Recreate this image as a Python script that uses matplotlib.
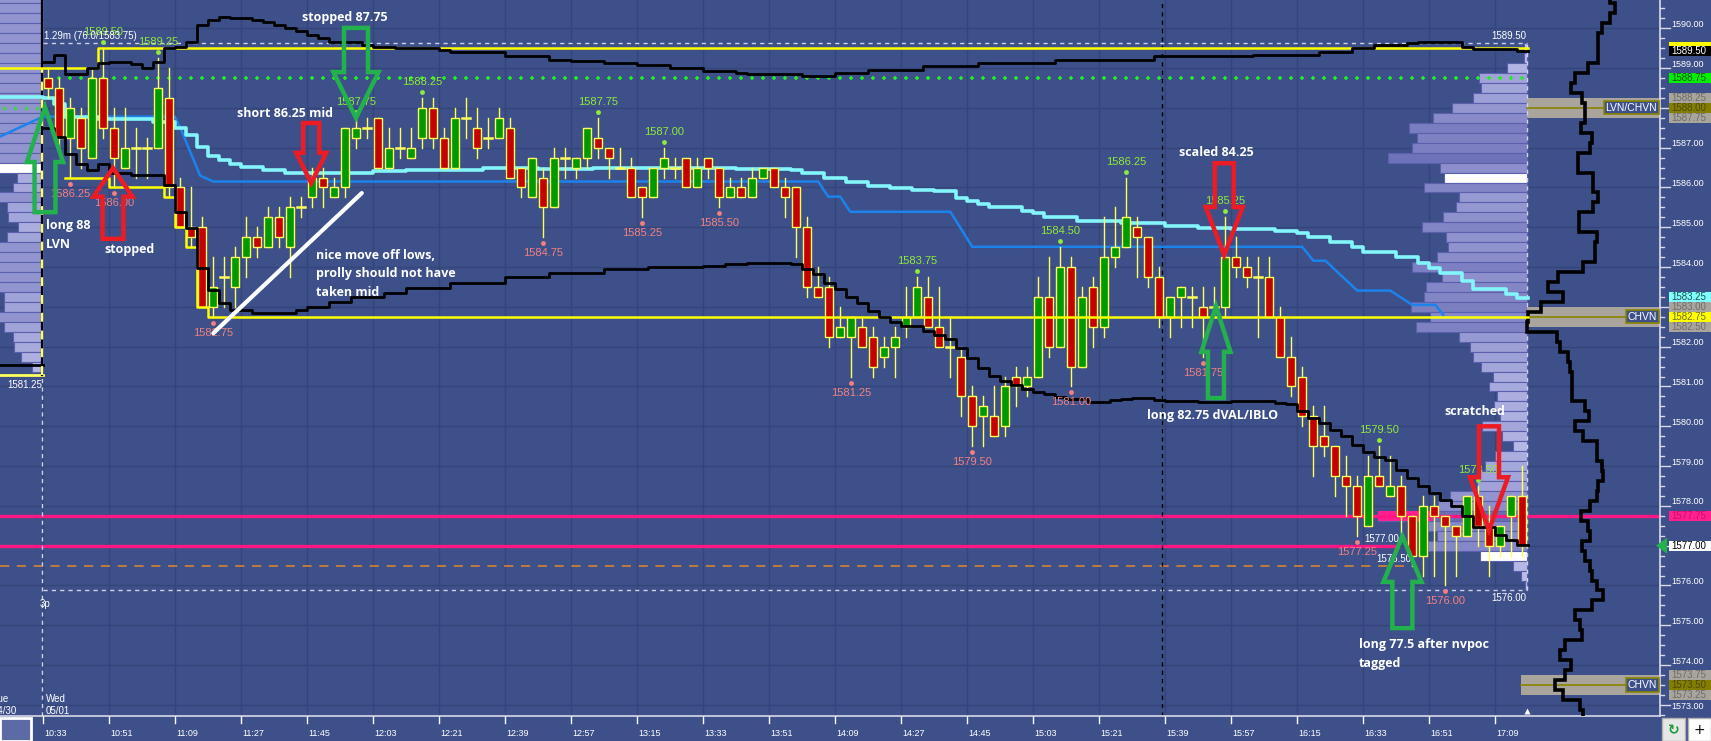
import numpy as np
import matplotlib
matplotlib.use('Agg')
import matplotlib.pyplot as plt
from matplotlib.patches import Rectangle, Polygon
from matplotlib import transforms

# ---- 3 minute bars, session of 05/01 ----
opens = [1588.75, 1588.5, 1587.25, 1587.75, 1586.75, 1588.75, 1587.5, 1586.5, 1587.0, 1587.0,
         1587.0, 1588.25, 1586.0, 1585.0, 1585.0, 1583.0, 1583.75, 1583.5, 1584.25, 1584.75,
         1584.5, 1585.25, 1584.5, 1585.5, 1585.75, 1586.25, 1585.75, 1586.0, 1587.25, 1587.5,
         1587.75, 1586.5, 1587.0, 1586.75, 1587.25, 1588.0, 1587.25, 1586.5, 1587.75, 1587.5,
         1587.25, 1587.25, 1587.5, 1586.5, 1585.75, 1586.25, 1585.5, 1586.75, 1586.5, 1586.75,
         1587.25, 1587.0, 1586.5, 1586.5, 1586.0, 1585.75, 1586.5, 1586.5, 1586.75, 1586.0,
         1586.75, 1586.5, 1585.75, 1586.0, 1585.75, 1586.25, 1586.5, 1586.0, 1586.0, 1585.0,
         1583.5, 1583.5, 1582.25, 1582.25, 1582.5, 1582.25, 1581.75, 1582.0, 1582.5, 1582.75,
         1583.25, 1582.5, 1582.0, 1581.75, 1580.75, 1580.25, 1580.25, 1580.0, 1581.25, 1581.0,
         1581.25, 1583.25, 1582.0, 1584.0, 1581.5, 1583.5, 1582.5, 1584.25, 1584.5, 1585.0,
         1584.75, 1583.75, 1582.75, 1583.25, 1583.25, 1583.0, 1583.0, 1583.0, 1584.25, 1584.0,
         1583.75, 1583.75, 1582.75, 1581.75, 1581.25, 1580.25, 1579.75, 1579.5, 1578.75, 1578.5,
         1577.5, 1578.75, 1578.25, 1578.5, 1577.75, 1576.75, 1578.0, 1577.75, 1577.5, 1577.25,
         1578.25, 1577.5, 1577.0, 1577.75, 1578.25]
highs = [1589.0, 1588.75, 1588.25, 1588.0, 1589.0, 1589.5, 1588.0, 1588.0, 1587.5, 1587.25,
         1589.25, 1589.0, 1586.25, 1586.0, 1585.25, 1584.25, 1584.25, 1584.5, 1585.25, 1585.0,
         1585.5, 1585.5, 1585.75, 1585.75, 1586.5, 1586.5, 1586.25, 1587.5, 1587.75, 1587.75,
         1587.75, 1587.5, 1587.5, 1587.5, 1588.25, 1588.25, 1587.5, 1588.0, 1588.25, 1588.0,
         1587.75, 1588.0, 1587.75, 1586.5, 1586.75, 1586.5, 1587.0, 1587.0, 1586.75, 1587.5,
         1587.75, 1587.0, 1587.0, 1586.75, 1586.0, 1586.5, 1587.0, 1586.75, 1586.75, 1586.75,
         1586.75, 1586.5, 1586.25, 1586.25, 1586.5, 1586.5, 1586.5, 1586.25, 1586.0, 1585.25,
         1584.0, 1583.75, 1583.0, 1582.75, 1582.75, 1582.5, 1582.25, 1582.5, 1583.5, 1583.75,
         1583.75, 1583.5, 1582.75, 1582.0, 1581.0, 1580.75, 1581.0, 1581.25, 1581.5, 1581.5,
         1583.75, 1584.25, 1584.5, 1584.25, 1583.5, 1583.75, 1585.25, 1585.5, 1586.25, 1585.25,
         1584.75, 1584.0, 1583.25, 1583.5, 1583.5, 1583.5, 1583.5, 1585.25, 1584.75, 1584.25,
         1584.25, 1584.25, 1583.0, 1582.25, 1581.5, 1580.5, 1580.5, 1579.5, 1579.25, 1578.75,
         1579.25, 1579.5, 1579.25, 1578.75, 1577.75, 1578.25, 1578.25, 1577.75, 1577.5, 1578.25,
         1578.5, 1578.0, 1577.5, 1578.25, 1579.0]
lows = [1588.25, 1587.0, 1586.25, 1586.5, 1586.75, 1587.25, 1586.0, 1586.5, 1586.25, 1586.25,
        1587.0, 1585.75, 1585.0, 1584.5, 1583.0, 1582.75, 1583.0, 1583.0, 1583.75, 1584.25,
        1584.5, 1584.5, 1583.75, 1585.25, 1585.5, 1585.5, 1585.75, 1585.75, 1587.0, 1587.25,
        1586.5, 1586.5, 1586.75, 1586.75, 1587.0, 1587.0, 1586.5, 1586.5, 1587.25, 1586.75,
        1587.0, 1587.25, 1586.25, 1585.75, 1585.75, 1584.75, 1585.5, 1586.25, 1586.25, 1586.5,
        1586.75, 1586.25, 1586.5, 1585.75, 1585.25, 1585.75, 1586.25, 1586.25, 1586.0, 1586.0,
        1586.25, 1585.5, 1585.75, 1585.75, 1585.75, 1586.25, 1586.0, 1585.25, 1584.25, 1583.25,
        1583.25, 1582.0, 1582.25, 1581.25, 1582.0, 1581.25, 1581.5, 1581.25, 1582.25, 1582.75,
        1582.5, 1582.0, 1581.25, 1580.25, 1579.5, 1579.5, 1579.75, 1579.75, 1580.5, 1580.75,
        1581.25, 1581.75, 1582.0, 1581.0, 1581.5, 1582.0, 1582.25, 1584.0, 1584.5, 1583.75,
        1583.5, 1582.5, 1582.25, 1582.5, 1582.5, 1581.75, 1582.75, 1582.75, 1583.75, 1583.5,
        1582.25, 1582.75, 1581.75, 1580.75, 1580.0, 1578.75, 1579.25, 1578.25, 1577.75, 1577.25,
        1577.5, 1578.5, 1578.25, 1577.25, 1576.5, 1576.25, 1576.25, 1576.0, 1576.25, 1577.25,
        1577.0, 1576.25, 1576.75, 1576.75, 1576.75]
closes = [1588.5, 1587.25, 1588.0, 1587.0, 1588.75, 1587.5, 1586.75, 1587.0, 1587.0, 1587.0,
          1588.5, 1586.0, 1585.0, 1584.75, 1583.0, 1583.5, 1583.75, 1584.25, 1584.75, 1584.5,
          1585.25, 1584.75, 1585.5, 1585.5, 1586.25, 1586.0, 1586.0, 1587.5, 1587.5, 1587.5,
          1586.5, 1587.0, 1587.0, 1587.0, 1588.0, 1587.25, 1586.5, 1587.75, 1587.75, 1587.0,
          1587.25, 1587.75, 1586.25, 1586.0, 1586.75, 1585.5, 1586.75, 1586.75, 1586.75, 1587.5,
          1587.0, 1586.75, 1586.5, 1585.75, 1585.75, 1586.5, 1586.75, 1586.5, 1586.0, 1586.5,
          1586.5, 1585.75, 1586.0, 1585.75, 1586.25, 1586.5, 1586.0, 1585.75, 1585.0, 1583.5,
          1583.25, 1582.25, 1582.5, 1582.75, 1582.0, 1581.5, 1582.0, 1582.25, 1582.75, 1583.5,
          1582.5, 1582.0, 1582.0, 1580.75, 1580.0, 1580.5, 1579.75, 1581.0, 1581.0, 1581.25,
          1583.25, 1582.0, 1584.0, 1581.5, 1583.25, 1582.5, 1584.25, 1584.5, 1585.25, 1584.75,
          1583.75, 1582.75, 1583.25, 1583.5, 1583.25, 1582.75, 1583.0, 1584.25, 1584.0, 1583.75,
          1583.75, 1582.75, 1581.75, 1581.0, 1580.25, 1579.5, 1579.5, 1578.75, 1578.5, 1577.75,
          1578.75, 1578.5, 1578.5, 1577.75, 1576.75, 1578.0, 1577.75, 1577.5, 1577.25, 1578.25,
          1577.5, 1577.0, 1577.5, 1578.25, 1577.0]

# bars that carry a high / low price label
hi_label_bars = [5, 10, 28, 34, 50, 56, 79, 92, 98, 107, 121, 130]
lo_label_bars = [2, 6, 15, 45, 54, 61, 73, 84, 93, 105, 119, 127]

time_labels = ['10:33', '10:51', '11:09', '11:27', '11:45', '12:03', '12:21', '12:39',
               '12:57', '13:15', '13:33', '13:51', '14:09', '14:27', '14:45', '15:03',
               '15:21', '15:39', '15:57', '16:15', '16:33', '16:51', '17:09']

# developing lines: (bar where step starts, value)
vwap_bars = [-4, 0, 1, 2, 5, 10, 12, 13, 14, 15, 16, 17, 18, 20, 22, 30, 33, 37, 40, 45, 50,
             63, 68, 69, 71, 73, 75, 77, 79, 81, 83, 84, 85, 86, 89, 90, 91, 94, 98, 102, 105,
             108, 112, 114, 115, 117, 119, 120, 123, 125, 126, 127, 129, 130, 133, 134]
vwap_vals = [1588.28, 1588.25, 1588.1, 1587.78, 1587.72, 1587.65, 1587.5, 1587.32, 1587.03,
             1586.8, 1586.7, 1586.6, 1586.52, 1586.44, 1586.36, 1586.42, 1586.44, 1586.45,
             1586.48, 1586.47, 1586.48, 1586.46, 1586.43, 1586.37, 1586.25, 1586.13, 1586.05,
             1585.98, 1585.94, 1585.9, 1585.73, 1585.67, 1585.59, 1585.5, 1585.42, 1585.35,
             1585.27, 1585.17, 1585.1, 1585.04, 1584.99, 1584.95, 1584.9, 1584.85, 1584.75,
             1584.62, 1584.51, 1584.39, 1584.26, 1584.1, 1583.98, 1583.84, 1583.65, 1583.44,
             1583.32, 1583.23]

poc_x = [-4.39, -0.48, 11.5, 12.0, 13.8, 15.0, 70.0, 70.9, 72.0, 72.9, 82.0, 84.0, 114.0,
         115.0, 116.1, 119.0, 122.0, 124.0, 126.1, 126.8]
poc_y = [1587.28, 1587.78, 1587.78, 1587.5, 1586.3, 1586.15, 1586.15, 1585.77, 1585.77,
         1585.39, 1585.39, 1584.51, 1584.51, 1584.16, 1584.16, 1583.41, 1583.41, 1583.05,
         1583.05, 1582.8]

vah_bars = [0, 1, 2, 4, 5, 6, 8, 9, 10, 11, 12, 13, 14, 15, 16, 17, 19, 20, 21, 22, 23, 24,
            25, 26, 29, 30, 32, 36, 37, 42, 46, 48, 51, 54, 57, 60, 63, 64, 69, 72, 75, 80,
            85, 92, 101, 110, 116, 119, 121, 124, 125, 129, 130, 134]
vah_vals = [1589.16, 1589.33, 1588.85, 1589.0, 1589.12, 1589.16, 1589.1, 1589.0, 1589.16,
            1589.5, 1589.54, 1589.66, 1590.08, 1590.2, 1590.29, 1590.25, 1590.2, 1590.17,
            1590.08, 1590.0, 1589.92, 1589.83, 1589.75, 1589.66, 1589.58, 1589.54, 1589.5,
            1589.45, 1589.4, 1589.3, 1589.2, 1589.18, 1589.14, 1589.08, 1589.0, 1588.93,
            1588.87, 1588.85, 1588.8, 1588.87, 1588.95, 1589.05, 1589.12, 1589.2, 1589.3,
            1589.33, 1589.41, 1589.5, 1589.58, 1589.62, 1589.66, 1589.54, 1589.47, 1589.44]

val_bars = [0, 1, 2, 3, 4, 5, 6, 8, 11, 12, 13, 14, 15, 16, 17, 19, 23, 24, 26, 28, 31, 33,
            37, 42, 46, 51, 55, 60, 62, 64, 65, 68, 69, 70, 71, 72, 73, 74, 75, 76, 77, 78,
            80, 81, 82, 83, 84, 85, 86, 87, 88, 89, 90, 91, 92, 93, 95, 97, 98, 99, 101, 102,
            105, 108, 112, 113, 114, 115, 116, 117, 118, 119, 120, 121, 122, 123, 124, 125,
            126, 127, 128, 129, 130, 132, 133, 134]
val_vals = [1587.5, 1587.28, 1586.85, 1586.6, 1586.44, 1586.6, 1586.36, 1586.31, 1586.06,
            1585.39, 1584.97, 1583.97, 1583.42, 1583.09, 1582.92, 1582.84, 1582.92, 1583.0,
            1583.13, 1583.26, 1583.34, 1583.47, 1583.6, 1583.75, 1583.85, 1583.95, 1584.0,
            1584.03, 1584.07, 1584.1, 1584.11, 1584.08, 1583.95, 1583.83, 1583.61, 1583.44,
            1583.26, 1583.11, 1582.9, 1582.75, 1582.63, 1582.52, 1582.4, 1582.29, 1582.19,
            1581.96, 1581.71, 1581.47, 1581.27, 1581.14, 1581.05, 1580.93, 1580.87, 1580.8,
            1580.74, 1580.69, 1580.62, 1580.66, 1580.68, 1580.7, 1580.66, 1580.64, 1580.62,
            1580.64, 1580.58, 1580.55, 1580.39, 1580.22, 1580.09, 1579.91, 1579.76, 1579.53,
            1579.36, 1579.22, 1579.15, 1578.9, 1578.69, 1578.5, 1578.33, 1578.15, 1578.0,
            1577.75, 1577.48, 1577.27, 1577.14, 1577.02]

ibh_bars = [-5, 5]
ibh_vals = [1589.0, 1589.5]
ibl_bars = [2, 6, 11, 12, 13, 14, 15]
ibl_vals = [1586.25, 1586.0, 1585.75, 1585.0, 1584.5, 1583.0, 1582.75]

# session volume profile (right), price levels and bar length
prof_prices = list(np.arange(1589.5, 1575.99, -0.25))
prof_len = [3, 3, 20, 48, 46, 54, 75, 94, 118, 110, 115, 139, 87, 83, 103, 68, 71, 84, 105,
            81, 79, 90, 115, 85, 101, 103, 116, 97, 111, 68, 57, 54, 46, 34, 38, 30, 33, 27,
            45, 25, 14, 32, 42, 47, 50, 77, 89, 149, 99, 90, 99, 47, 14, 6, 2]

# previous session profile (left)
prev_prices = list(np.arange(1590.75, 1581.49, -0.25))
prev_len = [60] * 17 + [60, 26, 30, 60, 36, 35, 25, 36, 60, 60, 60, 60, 60, 39, 39, 60, 39,
                        30, 29, 22, 11]

# composite profile outline (far right)
comp_prices = list(np.arange(1590.75, 1572.74, -0.25))
comp_len = [83, 88, 83, 75, 71, 71, 71, 61, 48, 44, 55, 58, 58, 54, 65, 63, 51, 51, 66, 66,
            71, 66, 52, 52, 70, 68, 68, 56, 31, 21, 36, 14, 1, 0, 30, 33, 41, 43, 45, 45, 45,
            58, 62, 48, 56, 70, 70, 75, 76, 71, 70, 63, 54, 61, 63, 55, 58, 63, 65, 70, 76,
            65, 48, 53, 55, 38, 33, 44, 38, 28, 36, 53, 56]

hvn_levels = [1588.0, 1582.75, 1573.5]
hvn_names = ['LVN/CHVN', 'CHVN', 'CHVN']

# ---- colours ----
BG = '#3e5089'
GRID = '#34457c'
YEL = '#ffff5a'
GREEN_BODY = '#009a00'
RED_BODY = '#c40000'
HI_TXT = '#8fea3a'
LO_TXT = '#f28080'
ARW_G = '#22b14c'
ARW_R = '#ed1c24'
GRAYBOX = '#a9a59d'

W, H = 1711, 741
fig = plt.figure(figsize=(W / 100, H / 100), dpi=100)
fig.patch.set_facecolor(BG)
ax = fig.add_axes([0, 25 / H, 1660 / W, 716 / H])
ax.set_facecolor(BG)
X0, X1 = -4.391, 146.518
Y0, Y1 = 1572.721, 1590.711
ax.set_xlim(X0, X1)
ax.set_ylim(Y0, Y1)
ax.set_xticks([])
ax.set_yticks([])
for s in ['top', 'left']:
    ax.spines[s].set_visible(False)
for s in ['right', 'bottom']:
    ax.spines[s].set_color('#d8d8e8')
    ax.spines[s].set_linewidth(1.2)

PT = 1 / 39.8     # price per pixel
BX = 1 / 11.0     # bar per pixel
n = len(opens)
edge = n - 0.55   # right edge of the session profile

# grid
tick_pos = [-0.5 + 6 * k for k in range(len(time_labels))]
for t in tick_pos:
    ax.axvline(t, color=GRID, lw=1, zorder=0.5)
for p in range(1573, 1591):
    ax.axhline(p, color=GRID, lw=1, zorder=0.5)


def prof_color(length, scale=150.0):
    f = min(length / scale, 1.0)
    c0 = np.array([0xbd, 0xbf, 0xea]) / 255
    c1 = np.array([0x68, 0x6c, 0xb4]) / 255
    return tuple(c0 + (c1 - c0) * f)


# previous session profile, right aligned on the session break
for p, L in zip(prev_prices, prev_len):
    fc = 'white' if abs(p - 1586.5) < 1e-6 else prof_color(min(L, 60) * 1.3)
    ax.add_patch(Rectangle((-0.5 - L * BX, p - 0.125), L * BX, 0.25, facecolor=fc,
                           edgecolor='#5a60ad', lw=0.8, zorder=1))

# session profile
for p, L in zip(prof_prices, prof_len):
    fc = prof_color(L)
    if abs(p - 1586.25) < 1e-6 or abs(p - 1576.75) < 1e-6:
        fc = 'white'
    ax.add_patch(Rectangle((edge - L * BX, p - 0.125), L * BX, 0.25, facecolor=fc,
                           edgecolor='#5a60ad', lw=0.8, zorder=1))
ax.add_patch(Rectangle((edge - 149 * BX, 1577.75 - 0.125), 55 * BX, 0.25,
                       facecolor='#ff1f8e', edgecolor='none', zorder=1.2))

# HVN zones
for lvl, name in zip(hvn_levels, hvn_names):
    x_start = edge if lvl > 1575 else edge - 0.55
    ax.add_patch(Rectangle((x_start, lvl - 0.25), X1 - x_start, 0.5, facecolor=GRAYBOX,
                           edgecolor='none', zorder=1.1))
    ax.plot([x_start, X1], [lvl, lvl], color='#8a8400', lw=1.2, zorder=1.3)
    ax.text(X1 - 0.25, lvl, name, color='white', fontsize=7.5, family='Liberation Sans',
            ha='right', va='center', zorder=6,
            bbox=dict(boxstyle='square,pad=0.15', facecolor=BG, edgecolor='#8a8400', lw=1.2))

# composite outline
cy = []
cx = []
for p, L in zip(comp_prices, comp_len):
    cy += [p + 0.125, p - 0.125]
    cx += [edge + L * BX, edge + L * BX]
ax.plot(cx, cy, color='black', lw=2.6, zorder=3, solid_joinstyle='miter')

# horizontal reference lines
ax.plot([X0, X1], [1577.75, 1577.75], color='#ff1784', lw=2.4, zorder=2)
ax.plot([X0, 122.6], [1577.0, 1577.0], color='#ff1784', lw=2.4, zorder=2)
ax.plot([X0, 123.5], [1576.5, 1576.5], color='#e0872e', lw=1.1, dashes=(6, 5), zorder=2)
ax.plot([X0, -0.5], [1581.28, 1581.28], color=YEL, lw=2, zorder=2)
ax.plot([X0, -0.5], [1581.53, 1581.53], color='black', lw=2, zorder=2)
ax.plot(np.arange(-4, 0), [1588.0] * 4, ls='none', marker='+', ms=3, color='#33dd33', zorder=2)
ax.plot(np.arange(1, n), [1588.75] * (n - 1), ls='none', marker='+', ms=3.5, mew=1.2,
        color='#22ee22', zorder=2)

# dashed session box
box_kw = dict(color='#d0d2e6', lw=1, dashes=(3, 3), zorder=2)
ax.plot([-0.5, edge], [1589.625, 1589.625], **box_kw)
ax.plot([-0.5, edge], [1575.875, 1575.875], **box_kw)
ax.plot([edge, edge], [1575.875, 1589.625], **box_kw)
ax.plot([-0.55, -0.55], [Y0, 1581.28], **box_kw)
ax.plot([-0.55, -0.55], [1581.28, Y1], color='black', lw=1.6, zorder=2)
ax.plot([-0.55, -0.55], [1581.28, 1589.0], color=YEL, lw=1.6, dashes=(4, 4), zorder=2.1)
ax.plot([101.2, 101.2], [Y0, Y1], color='black', lw=1, dashes=(3, 3), zorder=2)
ax.plot(edge, Y0 + 5 * PT, marker='^', ms=5, color='white', mec='none', zorder=5,
        clip_on=False)

# vwap + developing poc
vx = np.r_[vwap_bars, n] - 0.5
vy = np.r_[vwap_vals, vwap_vals[-1]]
ax.plot(vx, vy, drawstyle='steps-post', color='#84f6fb', lw=2.6, zorder=2.5)
ax.plot(poc_x, poc_y, color='#1c82ec', lw=1.8, zorder=2.4)

# candles
bw = 8 * BX
for i in range(n):
    o, h, l, c = opens[i], highs[i], lows[i], closes[i]
    ax.plot([i, i], [l, h], color=YEL, lw=1, zorder=3)
    if o == c:
        ax.plot([i - bw / 2, i + bw / 2], [o, o], color=YEL, lw=1.8, zorder=3.1)
    else:
        fc = GREEN_BODY if c > o else RED_BODY
        ax.add_patch(Rectangle((i - bw / 2, min(o, c)), bw, abs(c - o), facecolor=fc,
                               edgecolor=YEL, lw=1, zorder=3.1))

# IB lines and value area lines
ax.plot(np.r_[ibh_bars, n] - 0.5, np.r_[ibh_vals, ibh_vals[-1]], drawstyle='steps-post',
        color='#ffff00', lw=1.8, zorder=3.3)
ax.plot(np.r_[ibl_bars, n] - 0.5, np.r_[ibl_vals, ibl_vals[-1]], drawstyle='steps-post',
        color='#ffff00', lw=1.8, zorder=3.3)
ax.plot(np.r_[vah_bars, n] - 0.5, np.r_[vah_vals, vah_vals[-1]], drawstyle='steps-post',
        color='black', lw=2, zorder=3.4)
ax.plot(np.r_[val_bars, n] - 0.5, np.r_[val_vals, val_vals[-1]], drawstyle='steps-post',
        color='black', lw=2, zorder=3.4)

# high / low labels
lab_kw = dict(fontsize=8, family='Liberation Sans', ha='center', va='center', zorder=5)
for i in hi_label_bars:
    ax.plot(i, highs[i] + 6 * PT, 'o', ms=3.5, color=HI_TXT, mec='none', zorder=5)
    ax.text(i, highs[i] + 16 * PT, f'{highs[i]:.2f}', color=HI_TXT, **lab_kw)
for i in lo_label_bars:
    ax.plot(i, lows[i] - 6 * PT, 'o', ms=3.5, color=LO_TXT, mec='none', zorder=5)
    ax.text(i, lows[i] - 16 * PT, f'{lows[i]:.2f}', color=LO_TXT, **lab_kw)

sm = dict(fontsize=7, family='Liberation Sans', color='white', va='center', zorder=5)
ax.text(-0.4, 1589.8, '1.29m (76.0/1583.75)', ha='left', **sm)
ax.text(edge - 0.1, 1589.8, '1589.50', ha='right', **sm)
ax.text(edge - 0.1, 1575.69, '1576.00', ha='right', **sm)
ax.text(-0.75, 1575.53, '3p', ha='left', **sm)
ax.text(-0.6, 1581.05, '1581.25', ha='right', **sm)
ax.text(121.25, 1577.17, '1577.00', ha='center', **sm)
ax.text(122.3, 1576.67, '1576.50', ha='center', **sm)


# trade arrows: tip bar, tip price, direction, colour, length, head length, head half width, shaft half width
def block_arrow(x, tip, direction, color, L, Hd, Wh, Ws):
    d = 1 if direction == 'up' else -1
    hb = tip - d * Hd
    bt = tip - d * L
    pts = [(x, tip), (x + Wh, hb), (x + Ws, hb), (x + Ws, bt), (x - Ws, bt), (x - Ws, hb),
           (x - Wh, hb)]
    ax.add_patch(Polygon(pts, closed=True, fill=False, edgecolor=color, lw=3.2,
                         joinstyle='miter', zorder=6))


block_arrow(-0.3, 1588.02, 'up', ARW_G, 2.64, 1.38, 1.64, 0.95)
block_arrow(5.88, 1586.49, 'up', ARW_R, 1.78, 0.72, 1.77, 0.95)
block_arrow(23.9, 1586.11, 'down', ARW_R, 1.51, 0.76, 1.36, 0.73)
block_arrow(27.97, 1587.75, 'down', ARW_G, 2.26, 1.15, 2.05, 1.09)
block_arrow(106.9, 1584.30, 'down', ARW_R, 2.31, 1.21, 1.68, 0.86)
block_arrow(106.15, 1583.02, 'up', ARW_G, 2.31, 1.15, 1.32, 0.73)
block_arrow(123.1, 1577.24, 'up', ARW_G, 2.31, 1.15, 1.73, 0.91)
block_arrow(130.97, 1577.39, 'down', ARW_R, 2.61, 1.33, 1.73, 0.91)

ax.plot([15.0, 28.5], [1582.34, 1585.86], color='white', lw=3, solid_capstyle='round', zorder=6)

note = dict(fontsize=9, family='Open Sans', fontweight='bold', color='white', va='center',
            zorder=7)
ax.text(26.97, 1590.26, 'stopped 87.75', ha='center', **note)
ax.text(21.5, 1587.85, 'short 86.25 mid', ha='center', **note)
ax.text(-0.25, 1585.04, 'long 88', ha='left', **note)
ax.text(-0.25, 1584.58, 'LVN', ha='left', **note)
ax.text(7.38, 1584.43, 'stopped', ha='center', **note)
ax.text(24.34, 1584.30, 'nice move off lows,', ha='left', **note)
ax.text(24.34, 1583.83, 'prolly should not have', ha='left', **note)
ax.text(24.34, 1583.35, 'taken mid', ha='left', **note)
ax.text(106.15, 1586.87, 'scaled 84.25', ha='center', **note)
ax.text(105.8, 1580.26, 'long 82.75 dVAL/IBLO', ha='center', **note)
ax.text(129.65, 1580.36, 'scratched', ha='center', **note)
ax.text(119.15, 1574.51, 'long 77.5 after nvpoc', ha='left', **note)
ax.text(119.15, 1574.03, 'tagged', ha='left', **note)

# ---- price axis ----
tr = transforms.blended_transform_factory(ax.transAxes, ax.transData)
tr_up = transforms.offset_copy(tr, fig=fig, y=4, units='dots')
xr = lambda px: px / 1660.0
for q in np.arange(1572.75, 1590.51, 0.25):
    major = abs(q - round(q)) < 1e-6
    ax.plot([1.0, xr(1660 + (10 if major else 4))], [q, q], color='#d8d8e8', lw=1,
            transform=tr, clip_on=False)

axis_boxes = [(1589.52, '#ffff00', '', 'black'),
              (1589.42, '#000000', '1589.50', 'white'),
              (1588.75, '#00f000', '1588.75', '#1a4a1a'),
              (1588.25, GRAYBOX, '1588.25', '#6c6c6c'),
              (1588.0, '#837d00', '1588.00', '#4e4a00'),
              (1587.75, GRAYBOX, '1587.75', '#6c6c6c'),
              (1583.25, '#80ffff', '1583.25', '#205050'),
              (1583.0, GRAYBOX, '1583.00', '#6c6c6c'),
              (1582.75, '#ffff00', '1582.75', '#707030'),
              (1582.5, GRAYBOX, '1582.50', '#6c6c6c'),
              (1577.75, '#ff1f8e', '1577.75', '#c8106a'),
              (1577.0, '#ffffff', '1577.00', 'black'),
              (1573.75, GRAYBOX, '1573.75', '#6c6c6c'),
              (1573.5, '#837d00', '1573.50', '#4e4a00'),
              (1573.25, GRAYBOX, '1573.25', '#6c6c6c')]
boxed = [q for q, _, txt, _ in axis_boxes if txt]

for q in range(1573, 1591):
    if q in boxed:
        continue
    trq = tr if q == 1573 else tr_up
    ax.text(xr(1671), q - (0.05 if q == 1573 else 0), f'{q:.2f}', transform=trq,
            fontsize=6.5, family='Liberation Sans', color='white', va='center', ha='left',
            clip_on=False)

for q, fc, txt, tc in axis_boxes:
    ax.add_patch(Rectangle((xr(1669), q - 0.125), xr(1711) - xr(1669), 0.25, facecolor=fc,
                           edgecolor='none', transform=tr, clip_on=False, zorder=8))
    if txt:
        ax.text(xr(1671), q, txt, transform=tr, fontsize=7, family='Liberation Sans',
                color=tc, va='center', ha='left', clip_on=False, zorder=9)
ax.add_patch(Polygon([(xr(1656), 1577.0), (xr(1667), 1577.2), (xr(1667), 1576.8)],
                     closed=True, facecolor='#22b14c', edgecolor='none', transform=tr,
                     clip_on=False, zorder=9))

# ---- time axis ----
trx = transforms.blended_transform_factory(ax.transData, ax.transAxes)
for t, lab in zip(tick_pos, time_labels):
    ax.plot([t, t], [0, -7 / 716], color='white', lw=1, transform=trx, clip_on=False)
    ax.text(t + 0.1, -18 / 716, lab, transform=trx, fontsize=6.5, family='Liberation Sans',
            color='white', ha='left', va='center', clip_on=False)

dk = dict(fontsize=7, family='Liberation Sans', color='white', va='center')
fig.text(46 / W, 1 - 699 / H, 'Wed', ha='left', **dk)
fig.text(46 / W, 1 - 711 / H, '05/01', ha='left', **dk)
fig.text(9 / W, 1 - 699 / H, 'Tue', ha='right', **dk)
fig.text(17 / W, 1 - 711 / H, '04/30', ha='right', **dk)

# corner widgets
fig.patches.append(Rectangle((0, 0), 31 / W, 23 / H, transform=fig.transFigure,
                             facecolor='#5c6aa6', edgecolor='white', lw=2))
fig.patches.append(Rectangle((1662 / W, 0), 23 / W, 23 / H, transform=fig.transFigure,
                             facecolor='#e6e6e6', edgecolor='#b0b0b0', lw=1))
fig.patches.append(Rectangle((1688 / W, 0), 23 / W, 23 / H, transform=fig.transFigure,
                             facecolor='white', edgecolor='#b0b0b0', lw=1))
fig.text(1673.5 / W, 11 / H, '\u21bb', color='#1a9a3a', fontsize=10, fontweight='bold',
         ha='center', va='center', family='DejaVu Sans')
fig.text(1699.5 / W, 11 / H, '+', color='black', fontsize=10, ha='center', va='center',
         family='DejaVu Sans')

fig.savefig('out.png', dpi=100, facecolor=BG)
